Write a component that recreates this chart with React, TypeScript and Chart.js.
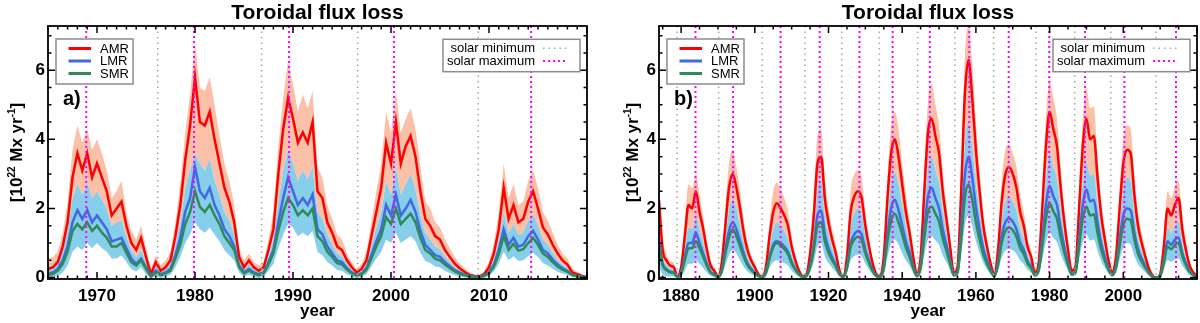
import React, { useEffect, useRef } from 'react';
import { Chart, registerables } from 'chart.js';

Chart.register(...registerables);

const FONT = '"Liberation Sans", Arial, Helvetica, sans-serif';
const RED = 'rgb(255,0,0)';
const BLUE = 'rgb(65,105,225)';
const GREEN = 'rgb(46,139,87)';
const SALMON = 'rgb(250,192,168)';
const SKY = 'rgb(135,206,235)';
const GRAY = 'rgb(165,165,165)';
const MAGENTA = 'rgb(255,0,255)';

const titleText = 'Toroidal flux loss';
const xTitle = 'year';
const seriesNames = ['AMR', 'LMR', 'SMR'];
const solarNames = ['solar minimum', 'solar maximum'];
const yTicks = [0, 2, 4, 6];

// ---------- Panel a: 1965.0 .. 2020.0, half-year steps ----------
const startA = 1965;
const stepA = 0.5;
const amrA = [
  0.25, 0.3, 0.45, 0.9, 1.6, 2.9, 3.6, 3.1, 3.6, 2.9,
  3.3, 2.9, 2.5, 1.8, 2.0, 2.2, 1.5, 1.0, 0.8, 1.15,
  0.6, 0.1, 0.45, 0.2, 0.3, 0.5, 1.2, 2.1, 3.4, 4.4,
  5.8, 4.5, 4.4, 4.8, 4.0, 3.3, 2.6, 2.2, 1.6, 0.6,
  0.3, 0.5, 0.3, 0.2, 0.3, 0.8, 1.4, 3.0, 4.3, 5.2,
  4.6, 3.9, 4.2, 3.9, 4.5, 2.5, 2.3, 1.6, 1.3, 0.9,
  0.8, 0.5, 0.3, 0.15, 0.25, 0.5, 1.2, 1.9, 2.6, 3.9,
  3.3, 4.5, 3.3, 3.8, 4.1, 3.5, 2.5, 1.7, 1.5, 1.2,
  1.1, 0.8, 0.6, 0.4, 0.27, 0.17, 0.08, 0.05, 0.03, 0.1,
  0.3, 0.7, 1.4, 2.6, 1.7, 2.1, 1.6, 1.7, 2.2, 2.5,
  2.0, 1.45, 1.25, 0.95, 0.7, 0.5, 0.38, 0.15, 0.1, 0.05,
  0.02,
];
const lmrA = [
  0.12, 0.15, 0.25, 0.5, 0.9, 1.6, 1.95, 1.7, 1.95, 1.6,
  1.8, 1.6, 1.4, 1.05, 1.1, 1.15, 0.85, 0.55, 0.4, 0.55,
  0.3, 0.05, 0.2, 0.1, 0.15, 0.25, 0.65, 1.15, 1.9, 2.3,
  3.2, 2.5, 2.3, 2.6, 2.1, 1.8, 1.4, 1.2, 0.9, 0.35,
  0.15, 0.25, 0.15, 0.1, 0.15, 0.45, 0.8, 1.6, 2.3, 2.9,
  2.5, 2.1, 2.3, 2.1, 2.4, 1.4, 1.25, 0.9, 0.7, 0.5,
  0.45, 0.28, 0.15, 0.08, 0.12, 0.28, 0.65, 1.05, 1.4, 2.1,
  1.8, 2.4, 1.8, 2.0, 2.25, 1.9, 1.35, 0.95, 0.8, 0.65,
  0.6, 0.45, 0.33, 0.22, 0.15, 0.09, 0.05, 0.03, 0.02, 0.06,
  0.16, 0.38, 0.8, 1.4, 0.95, 1.15, 0.9, 0.95, 1.2, 1.35,
  1.1, 0.8, 0.7, 0.52, 0.38, 0.27, 0.2, 0.08, 0.05, 0.03,
  0.01,
];
const smrA = [
  0.08, 0.1, 0.2, 0.4, 0.75, 1.35, 1.55, 1.4, 1.6, 1.35,
  1.5, 1.3, 1.15, 0.9, 0.9, 1.0, 0.72, 0.45, 0.35, 0.5,
  0.25, 0.03, 0.15, 0.07, 0.12, 0.2, 0.55, 0.95, 1.55, 1.9,
  2.5, 2.05, 1.9, 2.1, 1.8, 1.55, 1.2, 1.0, 0.8, 0.3,
  0.12, 0.2, 0.12, 0.07, 0.12, 0.38, 0.7, 1.35, 1.9, 2.3,
  2.1, 1.8, 1.95, 1.8, 2.0, 1.2, 1.05, 0.75, 0.6, 0.42,
  0.38, 0.23, 0.12, 0.06, 0.1, 0.23, 0.55, 0.9, 1.2, 1.75,
  1.55, 2.0, 1.55, 1.7, 1.85, 1.6, 1.15, 0.8, 0.7, 0.55,
  0.5, 0.38, 0.28, 0.18, 0.12, 0.07, 0.04, 0.02, 0.01, 0.05,
  0.13, 0.32, 0.68, 1.2, 0.8, 0.98, 0.78, 0.82, 1.0, 1.15,
  0.95, 0.7, 0.6, 0.45, 0.32, 0.23, 0.17, 0.07, 0.04, 0.02,
  0.01,
];
const amrHiA = [
  0.55, 0.6, 0.75, 1.3, 2.2, 3.7, 4.4, 3.9, 4.3, 3.7,
  4.0, 3.6, 3.1, 2.3, 2.5, 2.8, 1.9, 1.35, 1.1, 1.5,
  0.85, 0.25, 0.65, 0.35, 0.5, 0.75, 1.6, 2.7, 4.2, 5.3,
  6.8, 5.5, 5.4, 5.8, 5.0, 4.1, 3.3, 2.8, 2.1, 0.85,
  0.5, 0.7, 0.45, 0.35, 0.45, 1.1, 1.9, 3.8, 5.2, 6.3,
  5.6, 4.8, 5.3, 4.9, 5.4, 3.2, 2.9, 2.1, 1.7, 1.25,
  1.1, 0.7, 0.45, 0.25, 0.4, 0.75, 1.6, 2.5, 3.3, 4.8,
  4.2, 5.4, 4.2, 4.6, 4.9, 4.3, 3.2, 2.2, 2.0, 1.6,
  1.45, 1.1, 0.85, 0.6, 0.42, 0.28, 0.15, 0.1, 0.06, 0.18,
  0.45, 1.0, 1.9, 3.3, 2.3, 2.7, 2.1, 2.2, 2.8, 3.1,
  2.6, 1.9, 1.65, 1.3, 0.95, 0.7, 0.55, 0.25, 0.17, 0.09,
  0.04,
];
const blueHiA = [
  0.25, 0.3, 0.45, 0.8, 1.35, 2.3, 2.7, 2.4, 2.75, 2.3,
  2.5, 2.25, 2.0, 1.5, 1.6, 1.65, 1.2, 0.8, 0.6, 0.8,
  0.45, 0.1, 0.3, 0.18, 0.25, 0.4, 0.95, 1.6, 2.6, 3.1,
  3.6, 3.3, 3.1, 3.45, 2.8, 2.4, 1.9, 1.65, 1.25, 0.5,
  0.25, 0.38, 0.25, 0.16, 0.22, 0.62, 1.1, 2.2, 3.1, 3.7,
  3.3, 2.8, 3.1, 2.85, 3.2, 1.9, 1.7, 1.25, 0.95, 0.7,
  0.62, 0.4, 0.22, 0.12, 0.18, 0.4, 0.9, 1.45, 1.9, 2.8,
  2.4, 3.2, 2.4, 2.7, 3.0, 2.55, 1.8, 1.3, 1.1, 0.9,
  0.82, 0.62, 0.45, 0.3, 0.2, 0.13, 0.07, 0.05, 0.03, 0.09,
  0.22, 0.52, 1.1, 1.9, 1.3, 1.55, 1.25, 1.3, 1.65, 1.85,
  1.5, 1.1, 0.95, 0.72, 0.52, 0.38, 0.28, 0.11, 0.07, 0.04,
  0.02,
];
const blueLoA = [
  0.0, 0.0, 0.05, 0.15, 0.35, 0.75, 0.9, 0.8, 1.0, 0.85,
  1.0, 0.85, 0.75, 0.55, 0.55, 0.65, 0.45, 0.25, 0.18, 0.3,
  0.1, -0.02, 0.05, -0.02, 0.03, 0.08, 0.3, 0.6, 1.0, 1.25,
  1.6, 1.4, 1.3, 1.45, 1.25, 1.05, 0.8, 0.65, 0.5, 0.15,
  0.03, 0.08, 0.03, -0.02, 0.03, 0.2, 0.4, 0.85, 1.25, 1.55,
  1.45, 1.2, 1.3, 1.2, 1.35, 0.75, 0.65, 0.45, 0.35, 0.22,
  0.2, 0.1, 0.03, -0.02, 0.02, 0.1, 0.32, 0.55, 0.75, 1.1,
  1.0, 1.3, 1.0, 1.1, 1.2, 1.05, 0.72, 0.48, 0.42, 0.32,
  0.3, 0.2, 0.13, 0.07, 0.03, 0.01, -0.02, -0.02, -0.02, -0.02,
  0.05, 0.18, 0.4, 0.75, 0.5, 0.62, 0.48, 0.5, 0.62, 0.72,
  0.6, 0.42, 0.35, 0.26, 0.17, 0.12, 0.08, 0.02, 0.0, -0.02,
  -0.02,
];
const xTicksA = [1970, 1980, 1990, 2000, 2010];
const solarMinA = [1976.2, 1986.8, 1996.6, 2008.9];
const solarMaxA = [1968.9, 1979.9, 1989.6, 2000.3, 2014.3];

// ---------- Panel b: 1874 .. 2020, yearly ----------
const startB = 1874;
const stepB = 1;
const amrB = [
  2.25, 0.8, 0.5, 0.35, 0.3, 0.05, 0.3, 1.2, 2.1, 2.0,
  2.5, 1.9, 1.4, 0.8, 0.35, 0.2, 0.05, 0.4, 1.5, 2.6,
  3.0, 2.6, 2.0, 1.3, 0.8, 0.5, 0.3, 0.1, 0.02, 0.3,
  1.2, 1.9, 2.15, 2.0, 1.8, 1.5, 0.9, 0.5, 0.2, 0.05,
  0.1, 0.7, 1.8, 3.3, 3.5, 2.3, 1.6, 1.1, 0.7, 0.2,
  0.05, 0.6, 1.9, 2.35, 2.5, 2.3, 1.5, 0.9, 0.4, 0.1,
  0.05, 0.6, 2.3, 3.6, 4.0, 3.5, 2.7, 1.9, 1.3, 0.6,
  0.1, 0.6, 2.5, 4.2, 4.6, 4.1, 3.6, 2.5, 1.7, 0.9,
  0.15, 0.3, 2.5, 5.3, 6.3, 5.2, 3.7, 2.5, 1.5, 0.9,
  0.4, 0.1, 0.8, 2.2, 3.0, 3.2, 3.0, 2.6, 1.9, 1.5,
  0.9, 0.6, 0.15, 0.4, 2.0, 3.8, 4.8, 4.3, 3.8, 2.6,
  1.6, 0.8, 0.2, 0.3, 2.0, 3.8, 4.6, 4.0, 4.1, 2.9,
  1.8, 1.1, 0.5, 0.15, 0.6, 2.0, 3.3, 3.7, 3.6, 2.4,
  1.5, 1.0, 0.6, 0.25, 0.05, 0.0, 0.1, 0.9, 2.0, 1.8,
  2.1, 2.3, 1.4, 0.8, 0.35, 0.15, 0.05,
];
const lmrB = [
  1.1, 0.4, 0.25, 0.17, 0.15, 0.02, 0.15, 0.6, 1.0, 1.0,
  1.3, 1.0, 0.7, 0.4, 0.17, 0.1, 0.02, 0.2, 0.8, 1.35,
  1.6, 1.4, 1.05, 0.7, 0.42, 0.26, 0.15, 0.05, 0.01, 0.15,
  0.6, 0.95, 1.05, 1.0, 0.9, 0.75, 0.45, 0.25, 0.1, 0.02,
  0.05, 0.35, 0.95, 1.8, 1.95, 1.25, 0.85, 0.58, 0.37, 0.1,
  0.02, 0.3, 1.0, 1.25, 1.35, 1.25, 0.8, 0.48, 0.21, 0.05,
  0.02, 0.3, 1.25, 2.0, 2.25, 1.95, 1.5, 1.05, 0.72, 0.33,
  0.05, 0.32, 1.4, 2.35, 2.6, 2.3, 2.0, 1.4, 0.95, 0.5,
  0.08, 0.17, 1.4, 2.95, 3.5, 2.9, 2.05, 1.4, 0.85, 0.5,
  0.22, 0.05, 0.43, 1.2, 1.6, 1.72, 1.62, 1.4, 1.02, 0.8,
  0.48, 0.32, 0.08, 0.22, 1.1, 2.1, 2.65, 2.35, 2.1, 1.43,
  0.88, 0.44, 0.11, 0.16, 1.1, 2.1, 2.55, 2.2, 2.25, 1.6,
  1.0, 0.6, 0.27, 0.08, 0.33, 1.1, 1.8, 2.0, 1.95, 1.3,
  0.82, 0.55, 0.33, 0.14, 0.03, 0.0, 0.05, 0.5, 1.05, 0.95,
  1.1, 1.15, 0.72, 0.42, 0.18, 0.08, 0.03,
];
const smrB = [
  0.95, 0.35, 0.22, 0.15, 0.13, 0.02, 0.13, 0.5, 0.85, 0.85,
  1.05, 0.85, 0.6, 0.34, 0.15, 0.08, 0.02, 0.17, 0.68, 1.15,
  1.4, 1.2, 0.9, 0.6, 0.36, 0.22, 0.13, 0.04, 0.01, 0.13,
  0.55, 0.88, 1.0, 0.93, 0.83, 0.68, 0.41, 0.23, 0.09, 0.02,
  0.04, 0.3, 0.8, 1.5, 1.6, 1.05, 0.72, 0.5, 0.32, 0.09,
  0.02, 0.27, 0.88, 1.1, 1.18, 1.08, 0.7, 0.42, 0.18, 0.04,
  0.02, 0.26, 1.05, 1.65, 1.85, 1.6, 1.25, 0.87, 0.6, 0.27,
  0.04, 0.27, 1.15, 1.9, 2.05, 1.85, 1.62, 1.13, 0.77, 0.4,
  0.07, 0.14, 1.1, 2.3, 2.7, 2.25, 1.6, 1.1, 0.67, 0.4,
  0.18, 0.04, 0.36, 1.0, 1.35, 1.45, 1.37, 1.18, 0.86, 0.68,
  0.41, 0.27, 0.07, 0.18, 0.9, 1.7, 2.15, 1.92, 1.7, 1.16,
  0.72, 0.36, 0.09, 0.13, 0.9, 1.7, 2.05, 1.8, 1.83, 1.3,
  0.81, 0.49, 0.22, 0.07, 0.27, 0.9, 1.5, 1.7, 1.65, 1.1,
  0.69, 0.46, 0.28, 0.12, 0.02, 0.0, 0.04, 0.42, 0.9, 0.82,
  0.95, 1.0, 0.62, 0.36, 0.16, 0.07, 0.02,
];
const amrHiB = [
  2.35, 1.1, 0.7, 0.5, 0.42, 0.08, 0.45, 1.6, 2.7, 2.6,
  3.0, 2.4, 1.75, 1.05, 0.5, 0.3, 0.08, 0.55, 2.0, 3.3,
  3.7, 3.2, 2.5, 1.65, 1.05, 0.65, 0.4, 0.15, 0.03, 0.4,
  1.6, 2.5, 2.75, 2.55, 2.3, 1.9, 1.15, 0.65, 0.28, 0.07,
  0.15, 0.95, 2.3, 4.1, 4.3, 2.9, 2.0, 1.4, 0.9, 0.28,
  0.07, 0.8, 2.5, 3.0, 3.1, 2.9, 1.9, 1.15, 0.52, 0.14,
  0.07, 0.8, 2.9, 4.4, 4.8, 4.3, 3.3, 2.4, 1.65, 0.78,
  0.14, 0.8, 3.1, 5.1, 5.6, 5.0, 4.4, 3.1, 2.1, 1.15,
  0.2, 0.4, 3.1, 6.4, 7.3, 6.2, 4.5, 3.1, 1.9, 1.15,
  0.52, 0.14, 1.05, 2.8, 3.7, 3.85, 3.6, 3.2, 2.4, 1.9,
  1.15, 0.78, 0.2, 0.52, 2.5, 4.6, 5.7, 5.2, 4.6, 3.2,
  2.0, 1.05, 0.28, 0.4, 2.5, 4.6, 5.5, 4.9, 4.95, 3.5,
  2.25, 1.4, 0.65, 0.2, 0.78, 2.5, 4.0, 4.4, 4.3, 2.95,
  1.9, 1.3, 0.78, 0.33, 0.07, 0.01, 0.14, 1.15, 2.5, 2.3,
  2.65, 2.8, 1.8, 1.05, 0.46, 0.2, 0.07,
];
const blueHiB = [
  1.35, 0.6, 0.38, 0.26, 0.23, 0.04, 0.22, 0.85, 1.45, 1.4,
  1.8, 1.4, 1.0, 0.58, 0.25, 0.15, 0.04, 0.3, 1.15, 1.95,
  2.3, 2.0, 1.5, 1.0, 0.6, 0.38, 0.22, 0.08, 0.02, 0.22,
  0.9, 1.4, 1.6, 1.5, 1.35, 1.1, 0.68, 0.38, 0.15, 0.04,
  0.08, 0.52, 1.35, 2.55, 2.8, 1.8, 1.25, 0.85, 0.55, 0.15,
  0.04, 0.45, 1.45, 1.85, 2.0, 1.85, 1.2, 0.72, 0.32, 0.08,
  0.04, 0.45, 1.75, 2.75, 3.05, 2.7, 2.1, 1.5, 1.0, 0.47,
  0.08, 0.47, 1.95, 3.2, 3.5, 3.1, 2.75, 1.95, 1.3, 0.7,
  0.12, 0.24, 1.9, 3.9, 4.5, 3.8, 2.75, 1.9, 1.15, 0.7,
  0.32, 0.08, 0.6, 1.65, 2.2, 2.35, 2.2, 1.95, 1.42, 1.12,
  0.68, 0.45, 0.12, 0.32, 1.5, 2.85, 3.6, 3.2, 2.85, 1.95,
  1.2, 0.6, 0.16, 0.23, 1.5, 2.8, 3.35, 2.95, 3.0, 2.15,
  1.35, 0.82, 0.38, 0.12, 0.45, 1.55, 2.55, 2.9, 2.8, 1.85,
  1.15, 0.77, 0.46, 0.2, 0.04, 0.0, 0.08, 0.7, 1.45, 1.3,
  1.52, 1.62, 1.0, 0.58, 0.26, 0.11, 0.04,
];
const blueLoB = [
  0.3, 0.1, 0.05, 0.03, 0.03, -0.02, 0.03, 0.2, 0.4, 0.4,
  0.5, 0.4, 0.28, 0.15, 0.05, 0.02, -0.02, 0.06, 0.35, 0.65,
  0.8, 0.7, 0.5, 0.32, 0.18, 0.1, 0.05, 0.01, -0.02, 0.05,
  0.28, 0.45, 0.5, 0.47, 0.42, 0.35, 0.2, 0.1, 0.03, -0.02,
  0.01, 0.15, 0.45, 0.9, 1.0, 0.62, 0.42, 0.28, 0.17, 0.03,
  -0.02, 0.13, 0.5, 0.62, 0.67, 0.62, 0.4, 0.23, 0.09, 0.01,
  -0.02, 0.13, 0.6, 0.98, 1.1, 0.95, 0.72, 0.5, 0.34, 0.14,
  0.01, 0.14, 0.65, 1.1, 1.2, 1.08, 0.95, 0.65, 0.44, 0.22,
  0.02, 0.06, 0.65, 1.5, 1.8, 1.5, 1.05, 0.72, 0.43, 0.24,
  0.1, 0.01, 0.2, 0.58, 0.78, 0.83, 0.79, 0.68, 0.5, 0.39,
  0.23, 0.15, 0.02, 0.1, 0.52, 1.02, 1.3, 1.15, 1.02, 0.69,
  0.42, 0.2, 0.04, 0.06, 0.52, 1.02, 1.25, 1.07, 1.1, 0.78,
  0.48, 0.28, 0.12, 0.03, 0.15, 0.52, 0.87, 1.0, 0.95, 0.63,
  0.39, 0.26, 0.15, 0.05, -0.02, -0.02, 0.01, 0.23, 0.5, 0.46,
  0.52, 0.55, 0.35, 0.2, 0.08, 0.03, -0.02,
];
const xTicksB = [1880, 1900, 1920, 1940, 1960, 1980, 2000];
const solarMinB = [1878.9, 1890.2, 1902.0, 1913.6, 1923.6, 1933.8, 1944.2, 1954.3, 1964.8, 1976.3, 1986.8, 1996.6, 2008.9];
const solarMaxB = [1883.9, 1894.1, 1907.0, 1917.6, 1928.4, 1937.4, 1947.5, 1958.2, 1968.9, 1979.9, 1989.6, 2000.3, 2014.3];

type PanelCfg = {
  start: number; step: number;
  amr: number[]; lmr: number[]; smr: number[];
  amrHi: number[]; blueHi: number[]; blueLo: number[];
  xMin: number; xMax: number; xTicks: number[]; xMajor: number; xMinor: number;
  mins: number[]; maxs: number[]; tag: string;
  padLeft: number; padRight: number; yTitleX: number; smooth: boolean;
};

const panelA: PanelCfg = {
  start: startA, step: stepA, amr: amrA, lmr: lmrA, smr: smrA,
  amrHi: amrHiA, blueHi: blueHiA, blueLo: blueLoA,
  xMin: 1965, xMax: 2020, xTicks: xTicksA, xMajor: 10, xMinor: 1,
  mins: solarMinA, maxs: solarMaxA, tag: 'a)',
  padLeft: 48, padRight: 13, yTitleX: 16, smooth: false,
};
const panelB: PanelCfg = {
  start: startB, step: stepB, amr: amrB, lmr: lmrB, smr: smrB,
  amrHi: amrHiB, blueHi: blueHiB, blueLo: blueLoB,
  xMin: 1874, xMax: 2020, xTicks: xTicksB, xMajor: 20, xMinor: 5,
  mins: solarMinB, maxs: solarMaxB, tag: 'b)',
  padLeft: 59, padRight: 3, yTitleX: 32, smooth: true,
};

function drawYTitle(ctx: CanvasRenderingContext2D, cx: number, cy: number) {
  const parts = [
    { t: '[10', s: 17, dy: 0 },
    { t: '22', s: 10, dy: -7 },
    { t: ' Mx yr', s: 17, dy: 0 },
    { t: '-1', s: 10, dy: -7 },
    { t: ']', s: 17, dy: 0 },
  ];
  ctx.save();
  ctx.translate(cx, cy);
  ctx.rotate(-Math.PI / 2);
  let total = 0;
  const widths: number[] = [];
  for (const p of parts) {
    ctx.font = `bold ${p.s}px ${FONT}`;
    const w = ctx.measureText(p.t).width;
    widths.push(w);
    total += w;
  }
  let x0 = -total / 2;
  ctx.fillStyle = '#000';
  ctx.textAlign = 'left';
  ctx.textBaseline = 'alphabetic';
  parts.forEach((p, i) => {
    ctx.font = `bold ${p.s}px ${FONT}`;
    ctx.fillText(p.t, x0, 6 + p.dy);
    x0 += widths[i];
  });
  ctx.restore();
}

function makeDecor(cfg: PanelCfg) {
  return {
    id: 'decor',
    afterDatasetsDraw(chart: any) {
      const { ctx, chartArea: a, scales } = chart;
      const x = scales.x;
      ctx.save();
      ctx.beginPath();
      ctx.rect(a.left, a.top, a.right - a.left, a.bottom - a.top);
      ctx.clip();
      ctx.strokeStyle = GRAY;
      ctx.lineWidth = 1.5;
      ctx.setLineDash([1.5, 4]);
      for (const t of cfg.mins) {
        const px = x.getPixelForValue(t);
        ctx.beginPath();
        ctx.moveTo(px, a.top);
        ctx.lineTo(px, a.bottom);
        ctx.stroke();
      }
      ctx.strokeStyle = MAGENTA;
      ctx.lineWidth = 2;
      ctx.setLineDash([2, 3]);
      for (const t of cfg.maxs) {
        const px = x.getPixelForValue(t);
        ctx.beginPath();
        ctx.moveTo(px, a.top);
        ctx.lineTo(px, a.bottom);
        ctx.stroke();
      }
      ctx.restore();
    },
    afterDraw(chart: any) {
      const { ctx, chartArea: a, scales } = chart;
      const x = scales.x;
      const y = scales.y;
      ctx.save();
      ctx.setLineDash([]);
      // tick marks (inward)
      ctx.strokeStyle = '#000';
      ctx.lineWidth = 1.5;
      ctx.beginPath();
      const first = Math.ceil(cfg.xMin / cfg.xMinor) * cfg.xMinor;
      for (let t = first; t <= cfg.xMax + 1e-9; t += cfg.xMinor) {
        const px = x.getPixelForValue(t);
        const r = t / cfg.xMajor;
        const major = Math.abs(r - Math.round(r)) < 1e-6;
        const len = major ? 7 : 3.5;
        ctx.moveTo(px, a.bottom);
        ctx.lineTo(px, a.bottom - len);
        ctx.moveTo(px, a.top);
        ctx.lineTo(px, a.top + len);
      }
      for (let v = 0; v <= 7 + 1e-9; v += 0.5) {
        const py = y.getPixelForValue(v);
        const major = Math.abs(v / 2 - Math.round(v / 2)) < 1e-6;
        const len = major ? 7 : 3.5;
        ctx.moveTo(a.left, py);
        ctx.lineTo(a.left + len, py);
        ctx.moveTo(a.right, py);
        ctx.lineTo(a.right - len, py);
      }
      ctx.stroke();
      // frame
      ctx.lineWidth = 1.8;
      ctx.strokeRect(a.left, a.top, a.right - a.left, a.bottom - a.top);

      // legend 1
      const lx = a.left + 8;
      const ly = 39;
      ctx.fillStyle = '#fff';
      ctx.fillRect(lx, ly, 77, 45);
      ctx.strokeStyle = 'rgb(140,140,140)';
      ctx.lineWidth = 1.5;
      ctx.strokeRect(lx, ly, 77, 45);
      const cols = [RED, BLUE, GREEN];
      const rows = [48.5, 61, 73.5];
      ctx.font = `13px ${FONT}`;
      ctx.textBaseline = 'middle';
      ctx.textAlign = 'left';
      seriesNames.forEach((n, i) => {
        ctx.strokeStyle = cols[i];
        ctx.lineWidth = 3;
        ctx.beginPath();
        ctx.moveTo(lx + 12.5, rows[i]);
        ctx.lineTo(lx + 35, rows[i]);
        ctx.stroke();
        ctx.fillStyle = '#000';
        ctx.fillText(n, lx + 44, rows[i] + 0.5);
      });

      // legend 2
      const rx = a.right - 7;
      const bx = rx - 137;
      ctx.fillStyle = '#fff';
      ctx.fillRect(bx, 39.3, 137, 32.4);
      ctx.strokeStyle = 'rgb(140,140,140)';
      ctx.lineWidth = 1.5;
      ctx.strokeRect(bx, 39.3, 137, 32.4);
      const rows2 = [48.3, 61];
      ctx.textAlign = 'right';
      ctx.fillStyle = '#000';
      solarNames.forEach((n, i) => {
        ctx.fillText(n, a.right - 52, rows2[i] + 0.5);
      });
      ctx.strokeStyle = GRAY;
      ctx.lineWidth = 1.5;
      ctx.setLineDash([1.5, 4]);
      ctx.beginPath();
      ctx.moveTo(a.right - 44, rows2[0]);
      ctx.lineTo(a.right - 19, rows2[0]);
      ctx.stroke();
      ctx.strokeStyle = MAGENTA;
      ctx.lineWidth = 2;
      ctx.setLineDash([2, 3]);
      ctx.beginPath();
      ctx.moveTo(a.right - 44, rows2[1]);
      ctx.lineTo(a.right - 19, rows2[1]);
      ctx.stroke();
      ctx.setLineDash([]);

      // panel tag
      ctx.fillStyle = '#000';
      ctx.textAlign = 'left';
      ctx.textBaseline = 'middle';
      ctx.font = `bold 20px ${FONT}`;
      ctx.fillText(cfg.tag, a.left + 15, 99);

      // title
      ctx.textAlign = 'center';
      ctx.textBaseline = 'alphabetic';
      ctx.font = `bold 21px ${FONT}`;
      ctx.fillText(titleText, (a.left + a.right) / 2, 19);

      // x title
      ctx.font = `bold 17px ${FONT}`;
      ctx.fillText(xTitle, (a.left + a.right) / 2, 316);

      // y title
      drawYTitle(ctx, cfg.yTitleX, (a.top + a.bottom) / 2);
      ctx.restore();
    },
  };
}

function Panel({ cfg }: { cfg: PanelCfg }) {
  const ref = useRef<HTMLCanvasElement>(null);
  useEffect(() => {
    const canvas = ref.current;
    if (!canvas) return;
    const pts = (arr: number[]) => arr.map((v, i) => ({ x: cfg.start + i * cfg.step, y: v }));
    const common: any = {
      pointRadius: 0,
      pointHoverRadius: 0,
      tension: 0,
      cubicInterpolationMode: cfg.smooth ? 'monotone' : 'default',
    };
    const none = 'rgba(0,0,0,0)';
    const chart = new Chart(canvas, {
      type: 'line',
      data: {
        datasets: [
          { ...common, label: 'SMR', data: pts(cfg.smr), borderColor: GREEN, borderWidth: 2.5, fill: false },
          { ...common, label: 'LMR', data: pts(cfg.lmr), borderColor: BLUE, borderWidth: 2.5, fill: false },
          { ...common, label: 'AMR', data: pts(cfg.amr), borderColor: RED, borderWidth: 2.5, fill: false },
          { ...common, label: 'LMR/SMR range high', data: pts(cfg.blueHi), borderColor: none, borderWidth: 1, backgroundColor: SKY, fill: 4 },
          { ...common, label: 'LMR/SMR range low', data: pts(cfg.blueLo), borderColor: none, borderWidth: 1, fill: false },
          { ...common, label: 'AMR range high', data: pts(cfg.amrHi), borderColor: none, borderWidth: 1, backgroundColor: SALMON, fill: 3 },
        ],
      },
      options: {
        responsive: false,
        animation: false,
        devicePixelRatio: 1,
        events: [],
        layout: { padding: { left: 0, right: cfg.padRight, top: 26, bottom: 0 } },
        plugins: {
          legend: { display: false },
          tooltip: { enabled: false },
          title: { display: false },
        },
        scales: {
          x: {
            type: 'linear',
            min: cfg.xMin,
            max: cfg.xMax,
            grid: { display: false, drawTicks: false },
            border: { display: false },
            ticks: {
              color: '#000',
              font: { family: FONT, size: 17, weight: 'bold' },
              padding: 7,
              maxRotation: 0,
              autoSkip: false,
              callback: (v: any) => String(v),
            },
            afterBuildTicks: (s: any) => {
              s.ticks = cfg.xTicks.map((v) => ({ value: v }));
            },
            afterFit: (s: any) => {
              s.height = 44;
            },
          },
          y: {
            type: 'linear',
            min: -0.04,
            max: 7.28,
            grid: { display: false, drawTicks: false },
            border: { display: false },
            ticks: {
              color: '#000',
              font: { family: FONT, size: 17, weight: 'bold' },
              padding: 3,
              autoSkip: false,
              callback: (v: any) => String(v),
            },
            afterBuildTicks: (s: any) => {
              s.ticks = yTicks.map((v) => ({ value: v }));
            },
            afterFit: (s: any) => {
              s.width = cfg.padLeft;
            },
          },
        },
      } as any,
      plugins: [makeDecor(cfg)],
    });
    return () => chart.destroy();
  }, [cfg]);
  return <canvas ref={ref} width={600} height={323} style={{ display: 'block', width: 600, height: 323 }} />;
}

export default function App() {
  return (
    <div style={{ position: 'absolute', left: 0, top: 0, width: 1200, height: 323, display: 'flex', background: '#fff' }}>
      <Panel cfg={panelA} />
      <Panel cfg={panelB} />
    </div>
  );
}
